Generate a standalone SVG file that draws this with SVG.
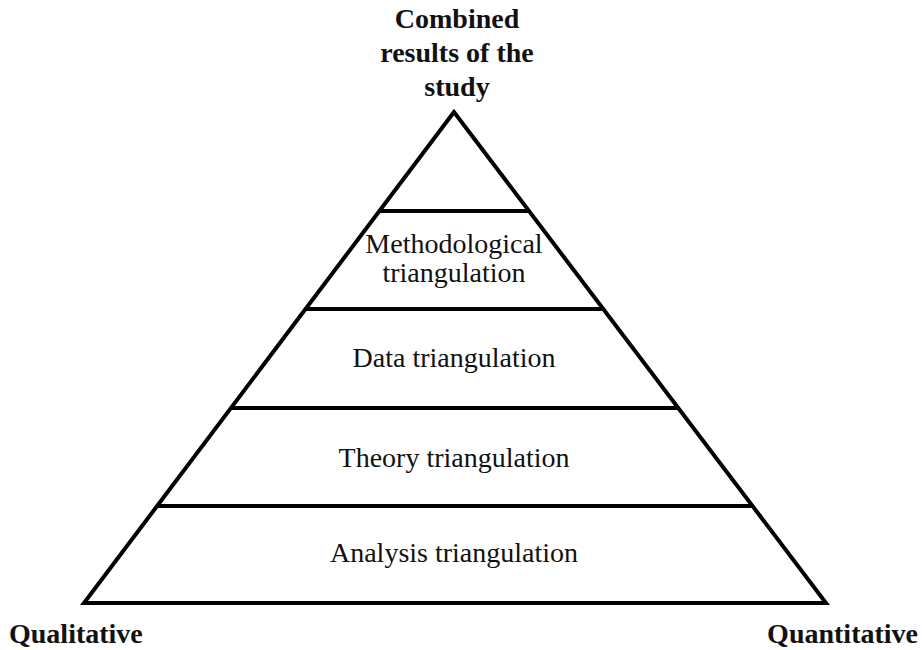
<svg xmlns="http://www.w3.org/2000/svg" width="922" height="650" viewBox="0 0 922 650">
<style>
.ln{stroke:#000;stroke-width:4;fill:none;stroke-linejoin:miter}
.t{font-family:"Liberation Serif","Times New Roman",serif;font-size:28px;fill:#111;text-anchor:middle}
.b{font-family:"Liberation Serif","Times New Roman",serif;font-size:28px;font-weight:bold;fill:#111}
</style>
<rect width="922" height="650" fill="#fff"/>
<g id="pyramid">
<polygon class="ln" points="454,112 84,603 826,603"/>
</g>
<g id="connectors">
<line class="ln" x1="379" y1="211" x2="529" y2="211"/>
<line class="ln" x1="305" y1="309" x2="603" y2="309"/>
<line class="ln" x1="231" y1="408" x2="677" y2="408"/>
<line class="ln" x1="157" y1="506" x2="751" y2="506"/>
</g>
<g id="apex"><text class="b" text-anchor="middle" x="457" y="28">Combined</text><text class="b" text-anchor="middle" x="457" y="62">results of the</text><text class="b" text-anchor="middle" x="457" y="96">study</text></g>
<g id="methodological"><text class="t" x="454" y="253">Methodological</text><text class="t" x="454" y="282">triangulation</text></g>
<g id="data"><text class="t" x="454" y="367">Data triangulation</text></g>
<g id="theory"><text class="t" x="454" y="467">Theory triangulation</text></g>
<g id="analysis"><text class="t" x="454" y="562">Analysis triangulation</text></g>
<g id="qualitative"><text class="b" x="9" y="643">Qualitative</text></g>
<g id="quantitative"><text class="b" x="918" y="643" text-anchor="end">Quantitative</text></g>
</svg>
